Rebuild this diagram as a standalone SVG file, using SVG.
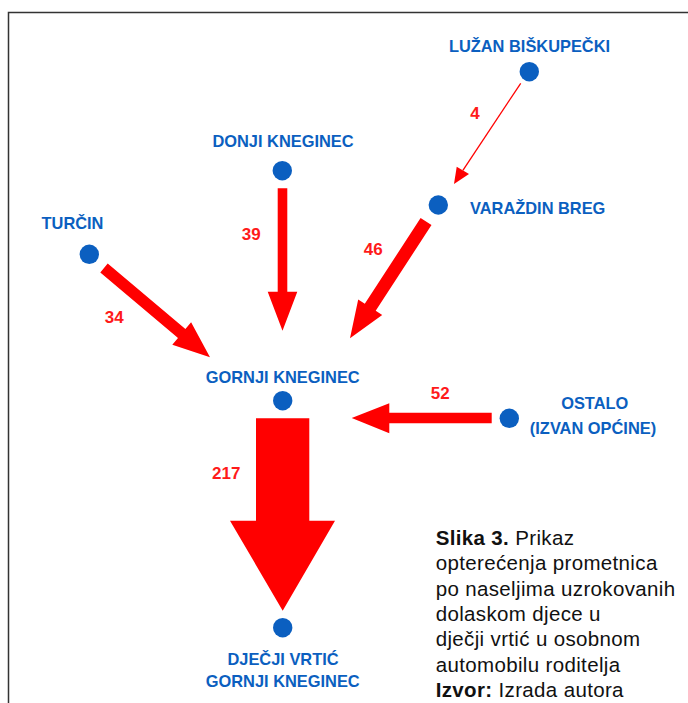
<svg xmlns="http://www.w3.org/2000/svg" width="688" height="703" viewBox="0 0 688 703">
<style>
.lbl{font-family:"Liberation Sans",Arial,sans-serif;font-weight:bold;font-size:16.4px;fill:#0b5fc0;}
.num{font-family:"Liberation Sans",Arial,sans-serif;font-weight:bold;font-size:17px;fill:#ff1a1a;text-anchor:middle;}
.dot{fill:#0b5fc0;}
.arr{fill:#ff0000;}
.cap{font-family:"Liberation Sans",Arial,sans-serif;font-size:20.5px;letter-spacing:0.35px;fill:#111;}
</style>
<rect width="688" height="703" fill="#fff"/>
<path d="M8.5,703 V12.5 H688" fill="none" stroke="#333" stroke-width="1.5"/>
<g id="connectors">
  <line x1="520.7" y1="83.3" x2="462.9" y2="170.4" stroke="#ff0000" stroke-width="1.3"/>
  <polygon class="arr" points="456.7,166.7 469,174 454,184"/>
  <polygon class="arr" points="277.7,188.3 287.3,188.3 287.3,291.7 297.3,291.7 282.5,330.7 267.7,291.7 277.7,291.7"/>
  <polygon class="arr" points="100.3,272.4 178,337.9 172.3,344.7 210,357.3 191.1,322.3 185.4,329.1 107.7,263.6"/>
  <polygon class="arr" points="420.6,218 364.8,303.8 358.2,299.5 350,338.3 382.2,315.1 375.7,310.8 431.5,225"/>
  <polygon class="arr" points="491.7,412.7 389.3,412.7 389.3,403.3 351.7,418 389.3,433.3 389.3,423.3 491.7,423.3"/>
  <polygon class="arr" points="256,418.3 309.3,418.3 309.3,520.7 335,520.7 282.7,610.7 230,520.7 256,520.7"/>
  <text class="num" x="475" y="119.3">4</text>
  <text class="num" x="251.3" y="240">39</text>
  <text class="num" x="114.2" y="322.7">34</text>
  <text class="num" x="373.3" y="254.5">46</text>
  <text class="num" x="440.3" y="399.3">52</text>
  <text class="num" x="226.2" y="479.3">217</text>
</g>
<g id="luzan">
  <circle class="dot" cx="529.3" cy="71.7" r="9.7"/>
  <text class="lbl" x="529.5" y="51.7" text-anchor="middle">LUŽAN BIŠKUPEČKI</text>
</g>
<g id="varazdin">
  <circle class="dot" cx="438.3" cy="205" r="9.7"/>
  <text class="lbl" x="470" y="214.3">VARAŽDIN BREG</text>
</g>
<g id="donji">
  <circle class="dot" cx="282.3" cy="170.7" r="9.7"/>
  <text class="lbl" x="283" y="146.7" text-anchor="middle">DONJI KNEGINEC</text>
</g>
<g id="turcin">
  <circle class="dot" cx="89.3" cy="254.3" r="9.7"/>
  <text class="lbl" x="72.5" y="229.3" text-anchor="middle">TURČIN</text>
</g>
<g id="gornji">
  <circle class="dot" cx="282.7" cy="400.7" r="9.7"/>
  <text class="lbl" x="282.7" y="383.3" text-anchor="middle">GORNJI KNEGINEC</text>
</g>
<g id="ostalo">
  <circle class="dot" cx="509.3" cy="418.3" r="9.7"/>
  <text class="lbl" x="594.7" y="409.3" text-anchor="middle">OSTALO</text>
  <text class="lbl" x="593" y="434" text-anchor="middle">(IZVAN OPĆINE)</text>
</g>
<g id="vrtic">
  <circle class="dot" cx="282.7" cy="627.7" r="9.7"/>
  <text class="lbl" x="283" y="665" text-anchor="middle">DJEČJI VRTIĆ</text>
  <text class="lbl" x="282.7" y="687.3" text-anchor="middle">GORNJI KNEGINEC</text>
</g>
<g id="caption" class="cap">
  <text x="435.7" y="545"><tspan font-weight="bold">Slika 3.</tspan> Prikaz</text>
  <text x="435.7" y="570.3">opterećenja prometnica</text>
  <text x="435.7" y="595.6">po naseljima uzrokovanih</text>
  <text x="435.7" y="620.9">dolaskom djece u</text>
  <text x="435.7" y="646.2">dječji vrtić u osobnom</text>
  <text x="435.7" y="671.5">automobilu roditelja</text>
  <text x="435.7" y="696.8"><tspan font-weight="bold">Izvor:</tspan> Izrada autora</text>
</g>
</svg>
